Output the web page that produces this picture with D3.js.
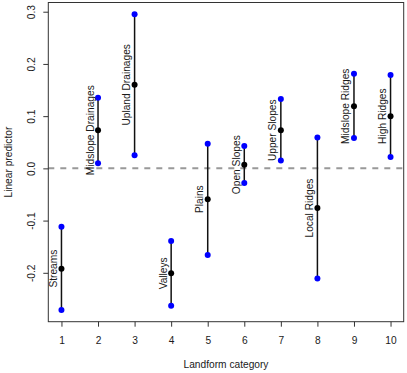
<!DOCTYPE html>
<html>
<head>
<meta charset="utf-8">
<script src="https://cdn.jsdelivr.net/npm/d3@7"></script>
<style>
    body { margin: 0; background: #fff; }
    text { font-family: "Liberation Sans", Arial, sans-serif; fill: #1a1a1a; }
</style>
</head>
<body>
<div id="chart"></div>
<script>
/* global d3 */
const categories = ['Streams', 'Midslope Drainages', 'Upland Drainages', 'Valleys', 'Plains',
        'Open Slopes', 'Upper Slopes', 'Local Ridges', 'Midslope Ridges', 'High Ridges'],
    estimate = [-0.192, 0.073, 0.160, -0.201, -0.059, 0.007, 0.073, -0.076, 0.119, 0.100],
    upper = [-0.112, 0.135, 0.295, -0.139, 0.047, 0.043, 0.133, 0.059, 0.181, 0.179],
    lower = [-0.271, 0.010, 0.025, -0.263, -0.166, -0.028, 0.015, -0.211, 0.058, 0.022],
    xTicks = [1, 2, 3, 4, 5, 6, 7, 8, 9, 10],
    yTicks = [-0.2, -0.1, 0.0, 0.1, 0.2, 0.3];

const width = 407,
    height = 373,
    margin = { top: 2.5, left: 48.3, bottom: 51.3, right: 3.3 };

const data = categories.map((name, i) => ({
    name: name,
    x: i + 1,
    est: estimate[i],
    lo: lower[i],
    hi: upper[i]
}));

// R style 4% padding around the data range
const xPad = 0.04 * 9,
    yMin = d3.min(lower),
    yMax = d3.max(upper),
    yPad = 0.04 * (yMax - yMin);

const x = d3.scaleLinear()
                .domain([1 - xPad, 10 + xPad])
                .range([margin.left, width - margin.right]),
    y = d3.scaleLinear()
                .domain([yMin - yPad, yMax + yPad])
                .range([height - margin.bottom, margin.top]);

const svg = d3.select('#chart').append('svg')
                .attr('width', width)
                .attr('height', height);

// zero reference line
svg.append('line')
                .attr('x1', x.range()[0])
                .attr('x2', x.range()[1])
                .attr('y1', y(0))
                .attr('y2', y(0))
                .attr('stroke', '#999')
                .attr('stroke-width', 2)
                .attr('stroke-dasharray', '6,6');

// axes
const xAxis = svg.append('g')
                .attr('transform', `translate(0,${height - margin.bottom})`)
                .call(d3.axisBottom(x).tickValues(xTicks).tickSize(5).tickPadding(10).tickFormat(d3.format('d')));

const yAxis = svg.append('g')
                .attr('transform', `translate(${margin.left},0)`)
                .call(d3.axisLeft(y).tickValues(yTicks).tickSize(5).tickFormat(d => d3.format('.1f')(d).replace('−', '-')));

[xAxis, yAxis].forEach(g => {
    g.select('.domain').remove();
    g.selectAll('.tick line').attr('stroke', '#333');
    g.selectAll('.tick text')
                    .style('font-family', '"Liberation Sans", Arial, sans-serif')
                    .style('font-size', '10.2px')
                    .style('fill', '#1a1a1a');
});

yAxis.selectAll('.tick text')
                .attr('x', null)
                .attr('dy', null)
                .attr('text-anchor', 'middle')
                .attr('transform', 'translate(-13,0) rotate(-90)');

// box
svg.append('rect')
                .attr('x', x.range()[0])
                .attr('y', y.range()[1])
                .attr('width', x.range()[1] - x.range()[0])
                .attr('height', y.range()[0] - y.range()[1])
                .attr('fill', 'none')
                .attr('stroke', '#333');

// intervals
const g = svg.append('g').attr('class', 'intervals');

g.selectAll('line')
                .data(data)
                .enter().append('line')
                .attr('x1', d => x(d.x))
                .attr('x2', d => x(d.x))
                .attr('y1', d => y(d.lo))
                .attr('y2', d => y(d.hi))
                .attr('stroke', '#111')
                .attr('stroke-width', 1.5);

g.selectAll('circle.bound')
                .data(data.flatMap(d => [{ x: d.x, v: d.lo }, { x: d.x, v: d.hi }]))
                .enter().append('circle')
                .attr('class', 'bound')
                .attr('cx', d => x(d.x))
                .attr('cy', d => y(d.v))
                .attr('r', 3)
                .attr('fill', '#0000ff');

g.selectAll('circle.est')
                .data(data)
                .enter().append('circle')
                .attr('class', 'est')
                .attr('cx', d => x(d.x))
                .attr('cy', d => y(d.est))
                .attr('r', 3)
                .attr('fill', '#000');

g.selectAll('text')
                .data(data)
                .enter().append('text')
                .attr('text-anchor', 'middle')
                .attr('font-size', '10.2px')
                .attr('transform', d => `translate(${x(d.x) - 4.5},${y(d.est)}) rotate(-90)`)
                .text(d => d.name);

// axis titles
svg.append('text')
                .attr('x', (x.range()[0] + x.range()[1]) / 2)
                .attr('y', 368)
                .attr('text-anchor', 'middle')
                .attr('font-size', '10.2px')
                .text('Landform category');

svg.append('text')
                .attr('text-anchor', 'middle')
                .attr('font-size', '10.2px')
                .attr('transform', `translate(12,${(y.range()[0] + y.range()[1]) / 2}) rotate(-90)`)
                .text('Linear predictor');
</script>
</body>
</html>
